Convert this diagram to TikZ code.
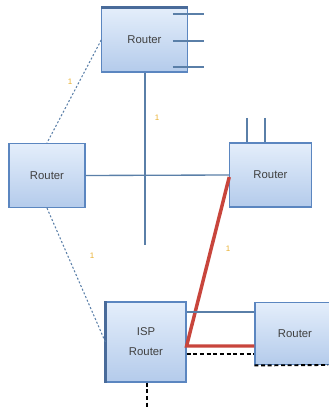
\documentclass[tikz,border=0pt]{standalone}
\usepackage{fontspec}
\setmainfont{Liberation Sans}
\definecolor{rborder}{HTML}{5B86C0}
\definecolor{rtop}{HTML}{E4EEFB}
\definecolor{rbot}{HTML}{B4CBEB}
\definecolor{lnk}{HTML}{5A7FA8}
\definecolor{redl}{HTML}{C8453C}
\definecolor{lbl}{HTML}{E8B030}
\tikzset{
  routerbox/.style={draw=rborder, line width=0.9pt, top color=rtop, bottom color=rbot,
    font=\fontsize{8.5}{9}\selectfont, text=black!75, inner sep=0pt, align=center},
  dotlink/.style={draw=lnk, line width=0.8pt, dash pattern=on 1.5pt off 1.5pt},
  solidlink/.style={draw=lnk, line width=1pt},
  redlink/.style={draw=redl, line width=2.6pt},
  blackdash/.style={draw=black, line width=1.4pt, dash pattern=on 3pt off 2pt},
  lab/.style={text=lbl, font=\fontsize{6}{6}\selectfont, inner sep=0pt}
}
\begin{document}
\begin{tikzpicture}[x=0.75pt,y=-0.75pt]
\useasboundingbox (0,0) rectangle (328,409);
% nodes
\node[routerbox, minimum width=64pt, minimum height=48pt] (top) at (144.5,40) {Router};
\node[routerbox, minimum width=57pt, minimum height=48pt] (left) at (47,175.5) {Router};
\node[routerbox, minimum width=61pt, minimum height=48pt] (right) at (270.5,175) {Router};
\node[routerbox, minimum width=60pt, minimum height=60pt] (isp) at (146,342) {ISP\\[6pt]Router};
\node[routerbox, minimum width=60pt, minimum height=47pt] (br) at (295,333.5) {Router};
% decorations
\draw[draw=rborder!80!black, line width=2pt] (top.north west) -- (top.north east);
\draw[draw=rborder!80!black, line width=1.8pt] (isp.north west) -- (isp.south west);
\coordinate (t1) at (204,14);
\coordinate (t2) at (204,41);
\coordinate (t3) at (204,67);
\draw[solidlink, line width=1.3pt] (top.east |- t1) ++(-15,0) -- (t1);
\draw[solidlink, line width=1.6pt] (top.east |- t2) ++(-15,0) -- (t2);
\draw[solidlink, line width=1.3pt] (top.east |- t3) ++(-15,0) -- (t3);
% stubs on right router
\coordinate (s1) at (247,118);
\coordinate (s2) at (265,118);
\draw[solidlink] (s1) -- (s1 |- right.north);
\draw[solidlink] (s2) -- (s2 |- right.north);
% links
\coordinate (vend) at (145,245);
\draw[solidlink] (top.south -| vend) -- (vend);
\draw[solidlink] (left.east) -- (right.west);
\draw[dotlink] (top.west) -- (left.north);
\draw[dotlink] (left.south) -- (isp.west);
\draw[redlink] ([yshift=-1.5pt]right.west) -- ([yshift=-3pt]isp.east) -- ([yshift=-3pt]isp.east -| br.west);
\draw[solidlink] ([yshift=22.5pt]isp.east) -- ([yshift=22.5pt]isp.east -| br.west);
\draw[blackdash] ([yshift=-9pt]isp.east) -- ([yshift=-9pt]isp.east -| br.west);
\coordinate (bre) at (328,365);
\draw[blackdash] (br.south west) -- (bre);
\coordinate (bb) at (147,409);
\draw[blackdash] (isp.south -| bb) -- (bb);
% labels
\node[lab] (l1) at (70,82) {1};
\node[lab] (l2) at (157,118) {1};
\node[lab] (l3) at (92,256) {1};
\node[lab] (l4) at (228,249) {1};
\end{tikzpicture}
\end{document}
